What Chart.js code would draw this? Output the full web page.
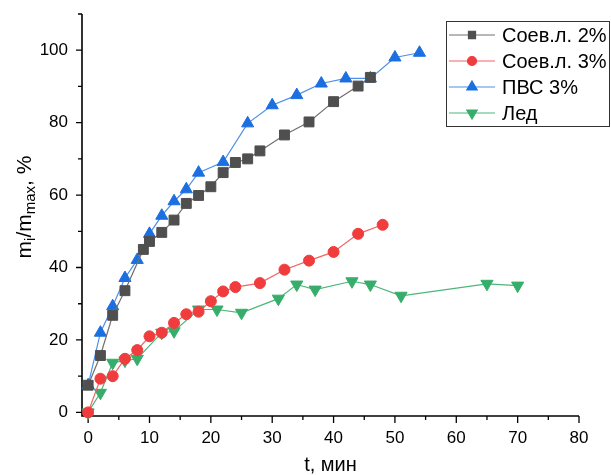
<!DOCTYPE html>
<html><head><meta charset="utf-8">
<script src="https://cdn.jsdelivr.net/npm/chart.js@4.4.0/dist/chart.umd.min.js"></script>
<style>html,body{margin:0;padding:0;background:#fff;overflow:hidden}#wrap{width:611px;height:475px;position:relative}</style>
</head><body><div id="wrap"><canvas id="c"></canvas></div>
<script>
const seriesLabels = ['Соев.л. 2%', 'Соев.л. 3%', 'ПВС 3%', 'Лед'];
const soev2T = [0, 2, 4, 6, 9, 10, 12, 14, 16, 18, 20, 22, 24, 26, 28, 32, 36, 40, 44, 46];
const soev2V = [7.5, 15.7, 26.8, 33.6, 45, 47.2, 49.7, 53.1, 57.7, 59.9, 62.3, 66.2, 69, 70, 72.2, 76.6, 80.2, 85.8, 90.1, 92.5];
const soev3T = [0, 2, 4, 6, 8, 10, 12, 14, 16, 18, 20, 22, 24, 28, 32, 36, 40, 44, 48];
const soev3V = [0, 9.3, 10, 14.8, 17.2, 21, 22, 24.7, 27.1, 27.8, 30.7, 33.4, 34.6, 35.7, 39.4, 41.9, 44.3, 49.3, 51.8];
const pvsT = [0, 2, 4, 6, 8, 10, 12, 14, 16, 18, 22, 26, 30, 34, 38, 42, 46, 50, 54];
const pvsV = [7.5, 22, 29.3, 37.1, 42.1, 49.3, 54.3, 58.3, 61.6, 66.2, 69.1, 79.8, 84.8, 87.6, 90.8, 92.2, 92.2, 98, 99.3];
const iceT = [0, 2, 4, 6, 8, 12, 14, 18, 21, 25, 31, 34, 37, 43, 46, 51, 65, 70];
const iceV = [0, 5.4, 13.7, 14.3, 14.8, 22, 22.4, 28.4, 28.4, 27.5, 31.4, 35.3, 33.9, 36.2, 35.3, 32.2, 35.5, 35];
const xTickLabels = [0, 10, 20, 30, 40, 50, 60, 70, 80];
const yTickLabels = [0, 20, 40, 60, 80, 100];
const xMinorTicks = [5, 15, 25, 35, 45, 55, 65, 75];
const yMinorTicks = [10, 30, 50, 70, 90, 110];
const xTitle = 't, мин';

const FONT = "'Liberation Sans', Arial, sans-serif";
const pts = (T, V) => T.map((t, i) => ({x: t, y: V[i]}));

const styles = [
  {marker: '#4f4f4f', line: '#707070', style: 'rect', r: 7, rot: 0, lr: 5},
  {marker: '#f03c3c', line: '#f06464', style: 'circle', r: 5.5, rot: 0, lr: 4.5},
  {marker: '#1b6fe0', line: '#4f8fe8', style: 'triangle', r: 7, rot: 0, lr: 6},
  {marker: '#37ad6b', line: '#4db57a', style: 'triangle', r: 7, rot: 180, lr: 6}
];
const dataArr = [pts(soev2T, soev2V), pts(soev3T, soev3V), pts(pvsT, pvsV), pts(iceT, iceV)];

const datasets = dataArr.map((d, i) => ({
  label: seriesLabels[i],
  data: d,
  showLine: true,
  borderColor: styles[i].line,
  borderWidth: 1.2,
  pointStyle: styles[i].style,
  pointRotation: styles[i].rot,
  pointRadius: styles[i].r,
  pointHoverRadius: styles[i].r,
  pointBackgroundColor: styles[i].marker,
  pointBorderColor: styles[i].marker,
  pointBorderWidth: 1,
  clip: false
}));

const axesPlugin = {
  id: 'axesPlugin',
  beforeDatasetsDraw(chart) {
    const {ctx, chartArea: a, scales: {x, y}} = chart;
    ctx.save();
    ctx.strokeStyle = '#000';
    ctx.lineWidth = 1.6;
    ctx.beginPath();
    ctx.moveTo(a.left, a.top); ctx.lineTo(a.left, a.bottom); ctx.lineTo(a.right, a.bottom);
    ctx.stroke();
    ctx.lineWidth = 1.3;
    ctx.beginPath();
    yTickLabels.forEach(v => { const p = y.getPixelForValue(v); ctx.moveTo(a.left, p); ctx.lineTo(a.left - 6, p); });
    yMinorTicks.forEach(v => { const p = y.getPixelForValue(v); ctx.moveTo(a.left, p); ctx.lineTo(a.left - 4, p); });
    xTickLabels.forEach(v => { const p = x.getPixelForValue(v); ctx.moveTo(p, a.bottom); ctx.lineTo(p, a.bottom + 7); });
    xMinorTicks.forEach(v => { const p = x.getPixelForValue(v); ctx.moveTo(p, a.bottom); ctx.lineTo(p, a.bottom + 4); });
    ctx.stroke();
    // y axis title with subscripts
    ctx.translate(31, 207);
    ctx.rotate(-Math.PI / 2);
    ctx.fillStyle = '#000';
    ctx.textBaseline = 'alphabetic';
    const parts = [['m', 0], ['i', 1], ['/m', 0], ['max', 1], [', %', 0]];
    const big = '21px ' + FONT, small = '15px ' + FONT;
    let total = 0;
    parts.forEach(p => { ctx.font = p[1] ? small : big; total += ctx.measureText(p[0]).width; });
    let cx = -total / 2;
    parts.forEach(p => {
      ctx.font = p[1] ? small : big;
      ctx.fillText(p[0], cx, p[1] ? 4 : 0);
      cx += ctx.measureText(p[0]).width;
    });
    ctx.restore();
  }
};

const legendPlugin = {
  id: 'legendPlugin',
  afterDraw(chart) {
    const ctx = chart.ctx;
    ctx.save();
    ctx.strokeStyle = '#333';
    ctx.lineWidth = 1;
    ctx.strokeRect(446.5, 21.5, 163, 105);
    const rows = [35, 61, 87, 113];
    chart.data.datasets.forEach((ds, i) => {
      const yy = rows[i];
      ctx.strokeStyle = styles[i].line;
      ctx.lineWidth = 1.2;
      ctx.beginPath(); ctx.moveTo(449, yy); ctx.lineTo(495, yy); ctx.stroke();
      ctx.fillStyle = styles[i].marker;
      ctx.strokeStyle = styles[i].marker;
      Chart.helpers.drawPoint(ctx, {pointStyle: styles[i].style, radius: styles[i].lr, rotation: styles[i].rot, borderWidth: 1}, 472, yy);
      ctx.fillStyle = '#000';
      ctx.font = '20px ' + FONT;
      ctx.textBaseline = 'middle';
      ctx.fillText(ds.label, 502, yy + 1);
    });
    ctx.restore();
  }
};

new Chart(document.getElementById('c'), {
  type: 'scatter',
  data: {datasets},
  options: {
    responsive: true,
    maintainAspectRatio: false,
    animation: false,
    events: [],
    layout: {padding: {top: 14, right: 32, left: 0, bottom: 0}},
    plugins: {legend: {display: false}, tooltip: {enabled: false}},
    scales: {
      x: {
        type: 'linear', min: -1, max: 80,
        afterBuildTicks: s => { s.ticks = xTickLabels.map(v => ({value: v})); },
        afterFit: s => { s.height = 59; s.paddingLeft = 0; s.paddingRight = 0; },
        grid: {display: false, drawTicks: false},
        border: {display: false},
        ticks: {color: '#000', font: {family: FONT, size: 17}, padding: 12, maxRotation: 0, autoSkip: false},
        title: {display: true, text: xTitle, color: '#000', font: {family: FONT, size: 20}, padding: {top: 0, bottom: -2}}
      },
      y: {
        type: 'linear', min: -1, max: 110,
        afterBuildTicks: s => { s.ticks = yTickLabels.map(v => ({value: v})); },
        afterFit: s => { s.width = 82; s.paddingTop = 0; s.paddingBottom = 0; },
        grid: {display: false, drawTicks: false},
        border: {display: false},
        ticks: {color: '#000', font: {family: FONT, size: 17}, padding: 14, autoSkip: false}
      }
    }
  },
  plugins: [axesPlugin, legendPlugin]
});
</script></body></html>
